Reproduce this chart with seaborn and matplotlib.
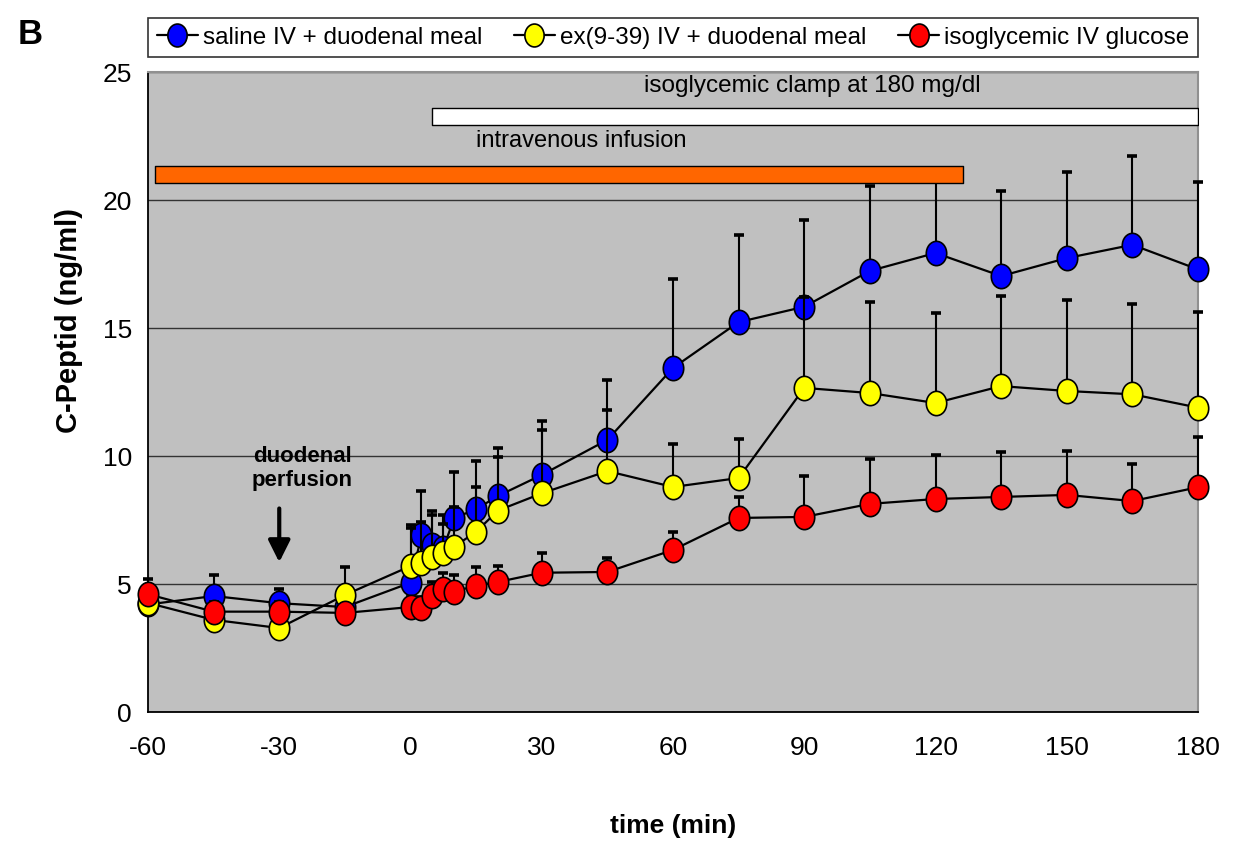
import numpy as np
import pandas as pd
import matplotlib
matplotlib.use('Agg')
import matplotlib.pyplot as plt
import seaborn as sns
from matplotlib.path import Path
from matplotlib.transforms import Affine2D
from matplotlib.lines import Line2D

# Datos
time_min = [-60, -45, -30, -15, 0, 2.5, 5, 7.5, 10, 15, 20, 30, 45, 60, 75, 90, 105, 120, 135, 150, 165, 180]

saline_mean = [4.2, 4.53, 4.25, 4.1, 5.05, 6.9, 6.52, 6.4, 7.58, 7.92, 8.44, 9.26, 10.63, 13.44,
               15.23, 15.83, 17.23, 17.93, 17.03, 17.73, 18.25, 17.29]
saline_top = [4.9, 5.35, 4.8, 4.6, 7.3, 8.65, 7.85, 7.7, 9.38, 9.8, 10.33, 11.35, 12.97, 16.9,
              18.65, 19.22, 20.56, 20.9, 20.35, 21.1, 21.73, 20.7]

exendin_mean = [4.26, 3.6, 3.28, 4.57, 5.7, 5.83, 6.07, 6.23, 6.46, 7.04, 7.87, 8.54, 9.41, 8.79,
                9.14, 12.66, 12.46, 12.07, 12.73, 12.54, 12.41, 11.89]
exendin_top = [4.7, 4.0, 3.7, 5.66, 7.2, 7.43, 7.7, 7.33, 8.0, 8.78, 9.97, 11.0, 11.8, 10.47,
               10.65, 16.2, 16.0, 15.6, 16.25, 16.1, 15.93, 15.64]

glucose_mean = [4.6, 3.92, 3.92, 3.87, 4.1, 4.05, 4.53, 4.8, 4.7, 4.94, 5.08, 5.44, 5.47, 6.33,
                7.58, 7.62, 8.13, 8.32, 8.4, 8.48, 8.24, 8.78]
glucose_top = [5.2, 4.3, 4.3, 4.2, 4.5, 4.5, 5.09, 5.42, 5.35, 5.65, 5.72, 6.2, 6.02, 7.05,
               8.4, 9.2, 9.9, 10.05, 10.15, 10.2, 9.69, 10.73]

series_labels = ['saline IV + duodenal meal', 'ex(9-39) IV + duodenal meal', 'isoglycemic IV glucose']
series_colors = ['#0000FF', '#FFFF00', '#FF0000']

# Barras de infusion (inicio, fin) en minutos
duodenal_bar = (-58.4, 126.3)
iv_bar = (4.9, 180)

# Estilo
sns.set_style('white')
plt.rcParams['font.family'] = ['Liberation Sans', 'DejaVu Sans']
plt.rcParams['text.color'] = 'black'
plt.rcParams['axes.labelcolor'] = 'black'
plt.rcParams['xtick.color'] = 'black'
plt.rcParams['ytick.color'] = 'black'
plt.rcParams['axes.unicode_minus'] = False

fig = plt.figure(figsize=(12.34, 8.44), dpi=100)
ax = fig.add_axes([148 / 1234, 1 - 712 / 844, 1050 / 1234, 640 / 844])
ax.set_facecolor('#C0C0C0')

# Marcador eliptico (un poco mas alto que ancho)
ell = Path.unit_circle().transformed(Affine2D().scale(0.84, 1.0))
msize = 17.5

df = pd.DataFrame({'time': time_min})
means = [saline_mean, exendin_mean, glucose_mean]
tops = [saline_top, exendin_top, glucose_top]

handles = []
for i, (m, t, col, lab) in enumerate(zip(means, tops, series_colors, series_labels)):
    m = np.array(m)
    t = np.array(t)
    ax.errorbar(time_min, m, yerr=[np.zeros_like(m), t - m], fmt='none', ecolor='black',
                elinewidth=1.5, capsize=3.5, capthick=2.6, zorder=3 + 2 * i, clip_on=False)
    df['value'] = m
    sns.lineplot(data=df, x='time', y='value', ax=ax, color='black', linewidth=1.6,
                 marker=ell, markersize=msize, markerfacecolor=col, markeredgecolor='black',
                 markeredgewidth=1.2, zorder=4 + 2 * i, clip_on=False, legend=False)
    handles.append(Line2D([], [], color='black', linewidth=1.6, marker=ell, markersize=msize - 1,
                          markerfacecolor=col, markeredgecolor='black', markeredgewidth=1.2))

# Barras de tratamiento
ax.broken_barh([(duodenal_bar[0], duodenal_bar[1] - duodenal_bar[0])], (20.66, 0.67),
               facecolors='#FF6600', edgecolors='black', linewidth=1, zorder=20)
ax.broken_barh([(iv_bar[0], iv_bar[1] - iv_bar[0])], (22.93, 0.67),
               facecolors='white', edgecolors='black', linewidth=1, zorder=20)
ax.text(91.8, 24.45, 'isoglycemic clamp at 180 mg/dl', ha='center', va='center', fontsize=17.5, zorder=21)
ax.text(15.0, 22.3, 'intravenous infusion', ha='left', va='center', fontsize=17, zorder=21)
ax.text(-24.8, 9.5, 'duodenal\nperfusion', ha='center', va='center', fontsize=16,
        fontweight='bold', linespacing=1.2, zorder=21)
ax.annotate('', xy=(-30, 5.85), xytext=(-30, 7.95),
            arrowprops=dict(arrowstyle='-|>,head_width=0.3,head_length=0.6', lw=3, color='black',
                            mutation_scale=22, shrinkA=0, shrinkB=0), zorder=21)

# Ejes
ax.set_xlim(-60, 180)
ax.set_ylim(0, 25)
ax.set_xticks(np.arange(-60, 181, 30))
ax.set_yticks(np.arange(0, 26, 5))
ax.set_axisbelow(True)
ax.grid(axis='y', color='#333333', linewidth=1.0)
ax.grid(axis='x', visible=False)
ax.tick_params(axis='both', direction='out', length=6.5, width=1, color='black', labelsize=19)
ax.tick_params(axis='x', pad=11)
ax.tick_params(axis='y', pad=5)
for side in ['left', 'bottom']:
    ax.spines[side].set_color('black')
    ax.spines[side].set_linewidth(1.3)
for side in ['top', 'right']:
    ax.spines[side].set_color('#909090')
    ax.spines[side].set_linewidth(1.5)

ax.set_xlabel('time (min)', fontsize=19, fontweight='bold')
ax.set_ylabel('C-Peptid (ng/ml)', fontsize=21, fontweight='bold')
ax.xaxis.set_label_coords(0.5, -0.16)
ax.yaxis.set_label_coords(-0.062, 0.611)

leg = ax.legend(handles, series_labels, loc='lower left', bbox_to_anchor=(0, 1.023, 1.0, 0.073),
                mode='expand', ncol=3, borderaxespad=0, frameon=True, fancybox=False,
                edgecolor='black', fontsize=17.5, handlelength=1.7, handletextpad=0.2,
                columnspacing=1.0, borderpad=0.35)
leg.get_frame().set_linewidth(1.2)

fig.text(30 / 1234, 1 - 35 / 844, 'B', ha='center', va='center', fontsize=25, fontweight='bold')

fig.savefig('out.png', dpi=100)
